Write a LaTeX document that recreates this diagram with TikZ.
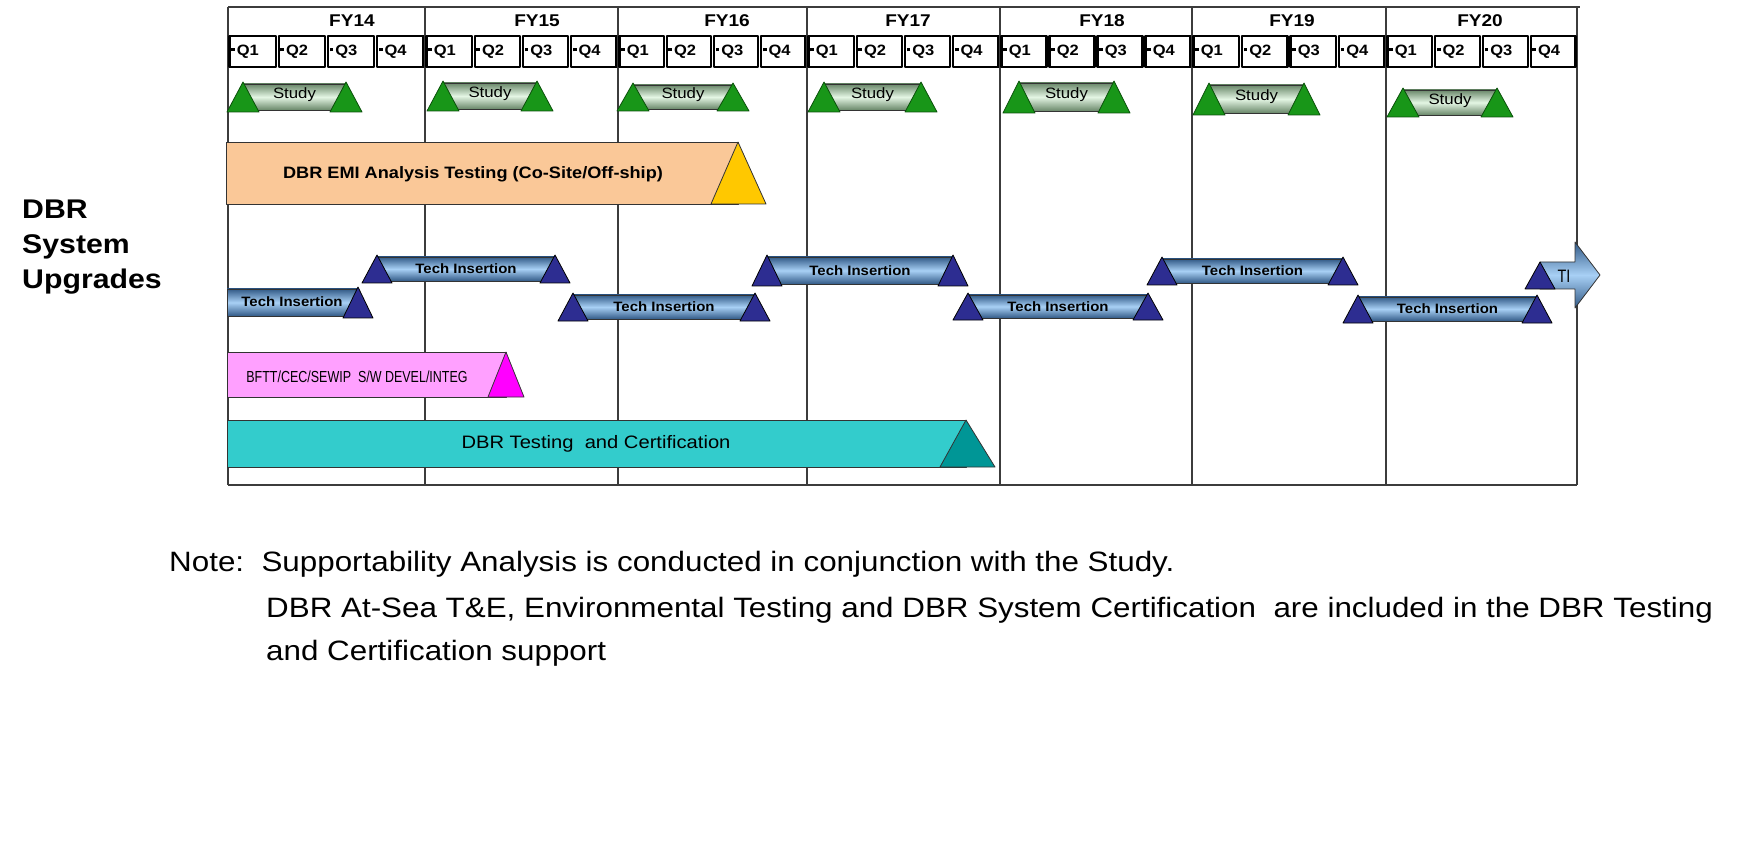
\documentclass[tikz,border=0pt]{standalone}
\usepackage{fontspec}
\setmainfont{Liberation Sans}

\definecolor{gridgray}{RGB}{60,60,60}
\definecolor{studygreen}{RGB}{24,150,24}
\definecolor{studyedge}{RGB}{10,80,10}
\definecolor{studydark}{RGB}{105,135,105}
\definecolor{studylight}{RGB}{228,246,228}
\definecolor{tinavy}{RGB}{45,45,145}
\definecolor{tidark}{RGB}{50,90,135}
\definecolor{tilight}{RGB}{168,208,245}
\definecolor{emifill}{RGB}{250,200,152}
\definecolor{emigold}{RGB}{255,200,0}
\definecolor{bfttfill}{RGB}{255,160,255}
\definecolor{bfttmag}{RGB}{255,0,255}
\definecolor{testfill}{RGB}{51,204,204}
\definecolor{testdark}{RGB}{0,150,150}

\newcommand{\qbullet}{\rule[0.3em]{0.22em}{0.22em}\hspace{0.12em}}

\begin{document}
\begin{tikzpicture}[x=1pt, y=-1pt, line join=round,
  colline/.style={draw=gridgray, line width=1.4pt},
  qbox/.style={draw=black, line width=2.2pt},
  fylbl/.style={inner sep=0pt, xscale=1.12, font=\fontsize{17}{20}\selectfont\bfseries},
  qlbl/.style={inner sep=0pt, anchor=west, xscale=1.1, font=\fontsize{15}{18}\selectfont\bfseries},
  ganttbar/.style={draw=black!80, line width=0.8pt},
  studybar/.style={ganttbar, top color=studydark, bottom color=studydark, middle color=studylight},
  studytri/.style={fill=studygreen, draw=studyedge, line width=0.8pt},
  tibar/.style={ganttbar, top color=tidark, bottom color=tidark, middle color=tilight},
  titri/.style={fill=tinavy, draw=black, line width=0.8pt},
  studylbl/.style={inner sep=0pt, xscale=1.12, font=\fontsize{15}{17}\selectfont},
  tilbl/.style={inner sep=0pt, xscale=1.1, font=\fontsize{13.6}{16}\selectfont\bfseries},
  biglbl/.style={inner sep=0pt, anchor=base west, xscale=1.12, font=\fontsize{27}{32}\selectfont\bfseries},
  notelbl/.style={inner sep=0pt, anchor=base west, xscale=1.12, font=\fontsize{28}{32}\selectfont}]
  \useasboundingbox (0,0) rectangle (1740,842);

  % frame and fiscal years
  \draw[colline] (228,7) -- (1580,7);
  \draw[colline] (228,485) -- (1577,485);
  \draw[colline] (1577,7) -- (1577,485);
  \foreach \xa/\xb/\fx/\yr in {228/425/352/14, 425/618/537/15, 618/807/727/16, 807/1000/908/17,
                               1000/1192/1102/18, 1192/1386/1292/19, 1386/1577/1480/20} {
    \draw[colline] (\xa,7) -- (\xa,485);
    \node[fylbl] (fy\yr) at (\fx,21) {FY\yr};
    \foreach \q in {1,...,4} {
      \pgfmathsetmacro\qa{\xa+(\q-1)*(\xb-\xa)/4}
      \pgfmathsetmacro\qb{\xa+\q*(\xb-\xa)/4}
      \draw[qbox] (\qa+1.5,36) rectangle (\qb-1.5,67);
      \node[qlbl] (q\yr\q) at (\qa+3,52) {\qbullet Q\q};
    }
  }

  \node[biglbl] (dbr1) at (22,219) {DBR};
  \node[biglbl] (dbr2) at (22,254) {System};
  \node[biglbl] (dbr3) at (22,289) {Upgrades};

  % study milestones
  \foreach \xa/\xb/\ya/\yb/\yr in {227/362/82/112/14, 427/553/81/111/15, 617/749/83/111/16, 808/937/82/112/17,
                                   1003/1130/81/113/18, 1193/1320/83/115/19, 1387/1513/88/117/20} {
    \shade[studybar] (\xa+16,\ya+2) rectangle (\xb-16,\yb-2);
    \filldraw[studytri] (\xa,\yb) -- (\xa+16,\ya) -- (\xa+32,\yb) -- cycle;
    \filldraw[studytri] (\xb-32,\yb) -- (\xb-16,\ya) -- (\xb,\yb) -- cycle;
    \node[studylbl] (study\yr) at ({(\xa+\xb)/2},{(\ya+\yb)/2-2}) {Study};
  }

  % EMI analysis
  \filldraw[ganttbar, fill=emifill] (226,142) rectangle (738,204);
  \filldraw[ganttbar, fill=emigold] (711,204) -- (738,142) -- (766,204) -- cycle;
  \node[inner sep=0pt, xscale=1.1, font=\fontsize{16.5}{20}\selectfont\bfseries] (emi) at (473,174)
    {DBR EMI Analysis Testing (Co-Site/Off-ship)};

  % tech insertions
  \shade[tibar] (227,289) rectangle (358,316);
  \filldraw[titri] (343,318) -- (358,287) -- (373,318) -- cycle;
  \node[tilbl] (ti1) at (292,302) {Tech Insertion};
  \foreach \xa/\xb/\ya/\yb/\n in {362/570/255/283/2, 558/770/293/321/3, 752/968/255/286/4,
                                  953/1163/293/320/5, 1147/1358/257/285/6, 1343/1552/295/323/7} {
    \shade[tibar] (\xa+15,\ya+2) rectangle (\xb-15,\yb-2);
    \filldraw[titri] (\xa,\yb) -- (\xa+15,\ya) -- (\xa+30,\yb) -- cycle;
    \filldraw[titri] (\xb-30,\yb) -- (\xb-15,\ya) -- (\xb,\yb) -- cycle;
    \node[tilbl] (ti\n) at ({(\xa+\xb)/2},{(\ya+\yb)/2}) {Tech Insertion};
  }
  \shade[tibar] (1540,262) -- (1575,262) -- (1575,242) -- (1600,275) -- (1575,308) -- (1575,289) -- (1540,289) -- cycle;
  \filldraw[titri] (1525,289) -- (1540,262) -- (1555,289) -- cycle;
  \node[inner sep=0pt, xscale=0.8, font=\fontsize{18}{20}\selectfont] (ti8) at (1564,276) {TI};

  % software and certification
  \filldraw[ganttbar, fill=bfttfill] (227,352) rectangle (506,397);
  \filldraw[ganttbar, fill=bfttmag] (488,397) -- (506,352) -- (524,397) -- cycle;
  \node[inner sep=0pt, xscale=0.78, font=\fontsize{16}{18}\selectfont] (bftt) at (357,377)
    {BFTT/CEC/SEWIP\ \ S/W DEVEL/INTEG};
  \filldraw[ganttbar, fill=testfill] (227,420) rectangle (966,467);
  \filldraw[ganttbar, fill=testdark] (940,467) -- (966,420) -- (995,467) -- cycle;
  \node[inner sep=0pt, xscale=1.12, font=\fontsize{18}{20}\selectfont] (cert) at (596,444)
    {DBR Testing\ \ and Certification};

  \node[notelbl] (note1) at (169,571) {Note:\ \ Supportability Analysis is conducted in conjunction with the Study.};
  \node[notelbl] (note2) at (266,617) {DBR At-Sea T\&E, Environmental Testing and DBR System Certification\ \ are included in the DBR Testing};
  \node[notelbl] (note3) at (266,660) {and Certification support};
\end{tikzpicture}
\end{document}
